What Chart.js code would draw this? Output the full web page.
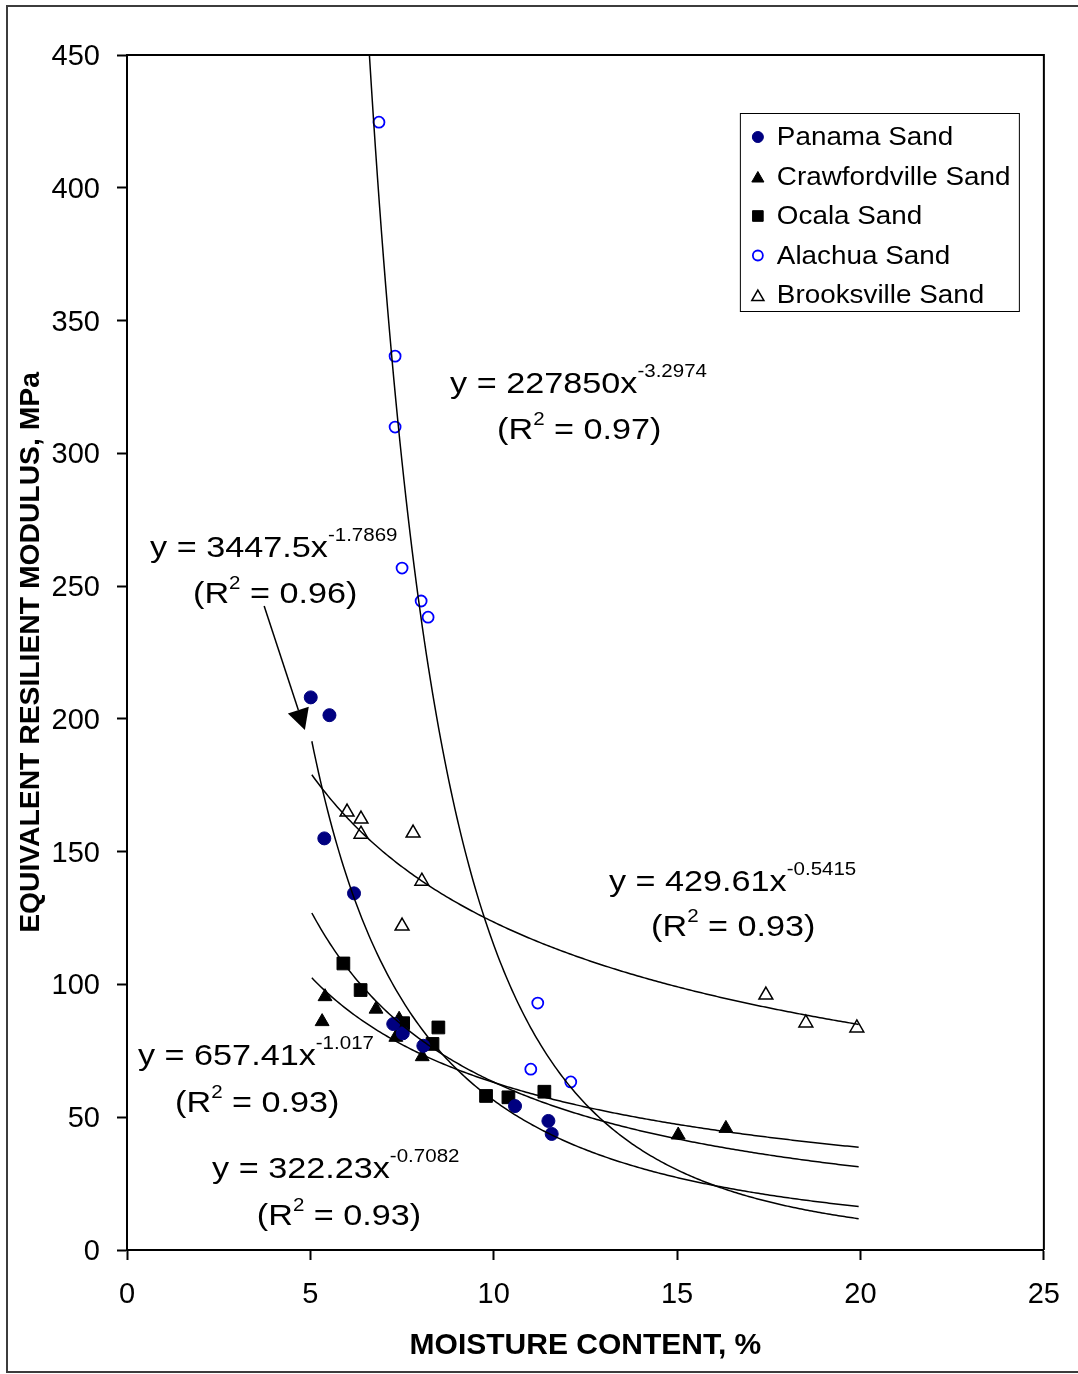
<!DOCTYPE html>
<html>
<head>
<meta charset="utf-8">
<script src="https://cdn.jsdelivr.net/npm/chart.js@4.4.1/dist/chart.umd.min.js"></script>
<style>
  html, body { margin: 0; padding: 0; background: #fff; }
  canvas { display: block; }
</style>
</head>
<body>
<canvas id="chart" width="1078" height="1374"></canvas>
<script>
// measured points, moisture content (%) vs equivalent resilient modulus (MPa)
const panamaX = [5.01, 5.52, 5.38, 6.19, 7.26, 7.52, 8.08, 10.58, 11.49, 11.58];
const panamaY = [208.1, 201.4, 155.0, 134.3, 85.1, 81.6, 76.9, 54.2, 48.6, 43.7];

const crawfordX = [5.32, 5.40, 6.79, 7.42, 7.33, 8.05, 15.03, 16.33];
const crawfordY = [86.0, 95.4, 90.7, 86.9, 80.1, 72.8, 43.3, 45.8];

const ocalaX = [5.90, 6.37, 7.53, 8.49, 8.33, 9.79, 10.40, 11.38];
const ocalaY = [107.9, 97.9, 85.4, 83.8, 77.6, 58.0, 57.5, 59.6];

const alachuaX = [6.87, 7.31, 7.31, 7.50, 8.02, 8.21, 11.20, 11.01, 12.10];
const alachuaY = [424.7, 336.6, 309.9, 256.8, 244.4, 238.3, 93.0, 68.1, 63.3];

const brooksX = [6.00, 6.38, 6.38, 7.80, 7.50, 8.04, 17.42, 18.51, 19.90];
const brooksY = [164.9, 162.3, 156.6, 157.0, 122.0, 138.9, 96.0, 85.5, 83.6];

const seriesNames = ["Panama Sand", "Crawfordville Sand", "Ocala Sand", "Alachua Sand", "Brooksville Sand"];

// power trendlines y = a * x^b as printed on the chart (same order as seriesNames)
const fitCoef = [3447.5, 322.23, 657.41, 227850, 429.61];
const fitExp = [-1.7869, -0.7082, -1.017, -3.2974, -0.5415];
const fitR2 = ["0.96", "0.93", "0.93", "0.97", "0.93"];
const fitFrom = [5.04, 5.04, 5.04, 6.61, 5.04];
const fitTo = [19.95, 19.95, 19.95, 19.95, 19.95];

const xTicks = [0, 5, 10, 15, 20, 25];
const yTicks = [0, 50, 100, 150, 200, 250, 300, 350, 400, 450];

const FONT = "'Liberation Sans', Arial, Helvetica, sans-serif";
Chart.defaults.font.family = FONT;
Chart.defaults.color = "#000";

function pts(xs, ys) {
  return xs.map((x, i) => ({ x: x, y: ys[i] }));
}

function fitCurve(i) {
  const out = [];
  const n = 240;
  for (let k = 0; k <= n; k++) {
    const x = fitFrom[i] + (fitTo[i] - fitFrom[i]) * k / n;
    out.push({ x: x, y: fitCoef[i] * Math.pow(x, fitExp[i]) });
  }
  return out;
}

const markerStyles = [
  { pointStyle: "circle", radius: 6.5, bg: "#000080", border: "#000080", bw: 1 },
  { pointStyle: "triangle", radius: 8, bg: "#000", border: "#000", bw: 1 },
  { pointStyle: "rect", radius: 9, bg: "#000", border: "#000", bw: 1 },
  { pointStyle: "circle", radius: 5.5, bg: "rgba(255,255,255,0)", border: "#0000ff", bw: 1.8 },
  { pointStyle: "triangle", radius: 8, bg: "#fff", border: "#000", bw: 1.5 }
];

const pointSets = [pts(panamaX, panamaY), pts(crawfordX, crawfordY), pts(ocalaX, ocalaY),
  pts(alachuaX, alachuaY), pts(brooksX, brooksY)];

const datasets = [];
pointSets.forEach((d, i) => {
  const m = markerStyles[i];
  datasets.push({
    label: seriesNames[i],
    data: d,
    pointStyle: m.pointStyle,
    pointRadius: m.radius,
    pointBackgroundColor: m.bg,
    pointBorderColor: m.border,
    pointBorderWidth: m.bw,
    showLine: false,
    order: 1
  });
});
seriesNames.forEach((name, i) => {
  datasets.push({
    label: name + " fit",
    data: fitCurve(i),
    showLine: true,
    pointRadius: 0,
    borderColor: "#000",
    borderWidth: 1.5,
    fill: false,
    tension: 0,
    order: 0
  });
});

// equation label anchors (left end of the text baseline, in data units)
const eqAnchorX = [0.63, 2.32, 0.30, 8.81, 13.14];
const eqAnchorY = [260.9, 27.1, 69.7, 322.8, 135.2];
const r2AnchorX = [1.80, 3.54, 1.31, 10.09, 14.29];
const r2AnchorY = [243.6, 9.4, 52.0, 305.3, 118.2];
const arrowFrom = { x: 3.74, y: 242.5 };
const arrowTo = { x: 4.85, y: 195.8 };

function wideText(ctx, text, x, y, sx) {
  ctx.save();
  ctx.translate(x, y);
  ctx.scale(sx, 1);
  ctx.fillText(text, 0, 0);
  ctx.restore();
  return ctx.measureText(text).width * sx;
}

function drawMarker(ctx, m, x, y, r) {
  ctx.save();
  ctx.fillStyle = m.bg;
  ctx.strokeStyle = m.border;
  ctx.lineWidth = m.bw;
  if (Chart.helpers && Chart.helpers.drawPoint) {
    Chart.helpers.drawPoint(ctx, { pointStyle: m.pointStyle, radius: r, borderWidth: m.bw, rotation: 0 }, x, y);
  } else {
    ctx.beginPath();
    ctx.arc(x, y, r, 0, Math.PI * 2);
    ctx.fill();
    ctx.stroke();
  }
  ctx.restore();
}

const decor = {
  id: "decor",
  afterDraw(chart) {
    const ctx = chart.ctx;
    const ca = chart.chartArea;
    const xs = chart.scales.x, ys = chart.scales.y;

    // plot frame (top and right sides)
    ctx.save();
    ctx.strokeStyle = "#000";
    ctx.lineWidth = 2;
    ctx.beginPath();
    ctx.moveTo(ca.left, ca.top);
    ctx.lineTo(ca.right, ca.top);
    ctx.lineTo(ca.right, ca.bottom);
    ctx.stroke();
    ctx.restore();

    // trendline equations
    ctx.save();
    ctx.fillStyle = "#000";
    ctx.textBaseline = "alphabetic";
    ctx.textAlign = "left";
    const sx = 1.14;
    for (let i = 0; i < fitCoef.length; i++) {
      let px = xs.getPixelForValue(eqAnchorX[i]);
      let py = ys.getPixelForValue(eqAnchorY[i]);
      ctx.font = "30px " + FONT;
      px += wideText(ctx, "y = " + fitCoef[i] + "x", px, py, sx);
      ctx.font = "18px " + FONT;
      wideText(ctx, String(fitExp[i]), px, py - 16, sx);

      px = xs.getPixelForValue(r2AnchorX[i]);
      py = ys.getPixelForValue(r2AnchorY[i]);
      ctx.font = "30px " + FONT;
      px += wideText(ctx, "(R", px, py, sx);
      ctx.font = "18px " + FONT;
      px += wideText(ctx, "2", px, py - 14, sx);
      ctx.font = "30px " + FONT;
      wideText(ctx, " = " + fitR2[i] + ")", px, py, sx);
    }
    ctx.restore();

    // arrow pointing at the Panama trendline
    const ax0 = xs.getPixelForValue(arrowFrom.x), ay0 = ys.getPixelForValue(arrowFrom.y);
    const ax1 = xs.getPixelForValue(arrowTo.x), ay1 = ys.getPixelForValue(arrowTo.y);
    const ang = Math.atan2(ay1 - ay0, ax1 - ax0);
    const hl = 21, hw = 11;
    const bx = ax1 - hl * Math.cos(ang), by = ay1 - hl * Math.sin(ang);
    ctx.save();
    ctx.strokeStyle = "#000";
    ctx.fillStyle = "#000";
    ctx.lineWidth = 1.5;
    ctx.beginPath();
    ctx.moveTo(ax0, ay0);
    ctx.lineTo(bx, by);
    ctx.stroke();
    ctx.beginPath();
    ctx.moveTo(ax1, ay1);
    ctx.lineTo(bx + hw * Math.sin(ang), by - hw * Math.cos(ang));
    ctx.lineTo(bx - hw * Math.sin(ang), by + hw * Math.cos(ang));
    ctx.closePath();
    ctx.fill();
    ctx.restore();

    // legend box
    const lx = ca.right - 304, ly = ca.top + 58, lw = 279, lh = 198;
    ctx.save();
    ctx.fillStyle = "#fff";
    ctx.fillRect(lx, ly, lw, lh);
    ctx.strokeStyle = "#000";
    ctx.lineWidth = 1;
    ctx.strokeRect(lx + 0.5, ly + 0.5, lw, lh);
    ctx.font = "26.5px " + FONT;
    ctx.textBaseline = "middle";
    ctx.textAlign = "left";
    const legendR = [5.5, 7, 7.5, 5, 7];
    seriesNames.forEach((name, i) => {
      const cy = ly + 24 + i * 39.5;
      drawMarker(ctx, markerStyles[i], lx + 18, cy + (markerStyles[i].pointStyle === "triangle" ? 2 : 0), legendR[i]);
      ctx.fillStyle = "#000";
      wideText(ctx, name, lx + 37, cy + 1, 1.05);
    });
    ctx.restore();

    // outer frame of the picture
    ctx.save();
    ctx.strokeStyle = "#3c3c3c";
    ctx.lineWidth = 2;
    ctx.beginPath();
    ctx.moveTo(1080, 6);
    ctx.lineTo(7, 6);
    ctx.lineTo(7, 1372);
    ctx.lineTo(1080, 1372);
    ctx.stroke();
    ctx.restore();
  }
};

new Chart(document.getElementById("chart"), {
  type: "scatter",
  data: { datasets: datasets },
  plugins: [decor],
  options: {
    responsive: false,
    animation: false,
    devicePixelRatio: 1,
    layout: { padding: { left: 0, top: 55, right: 34, bottom: 0 } },
    plugins: {
      legend: { display: false },
      tooltip: { enabled: false }
    },
    scales: {
      x: {
        type: "linear",
        min: xTicks[0],
        max: xTicks[xTicks.length - 1],
        afterBuildTicks: (s) => { s.ticks = xTicks.map(v => ({ value: v })); },
        ticks: { font: { size: 29 }, color: "#000", padding: 18, maxRotation: 0 },
        grid: { drawOnChartArea: false, drawTicks: true, tickLength: 10, tickColor: "#000", tickWidth: 2, color: "#000" },
        border: { display: true, color: "#000", width: 2 },
        title: { display: true, text: "MOISTURE CONTENT, %", color: "#000",
          font: { size: 30, weight: "bold" }, padding: { top: 0, bottom: 10 } },
        afterFit: (s) => { s.height = 124; }
      },
      y: {
        type: "linear",
        min: yTicks[0],
        max: yTicks[yTicks.length - 1],
        afterBuildTicks: (s) => { s.ticks = yTicks.map(v => ({ value: v })); },
        ticks: { font: { size: 29 }, color: "#000", padding: 17, labelOffset: 2 },
        grid: { drawOnChartArea: false, drawTicks: true, tickLength: 10, tickColor: "#000", tickWidth: 2, color: "#000" },
        border: { display: true, color: "#000", width: 2 },
        title: { display: true, text: "EQUIVALENT RESILIENT MODULUS, MPa", color: "#000",
          font: { size: 28.3, weight: "bold" }, padding: { top: 14, bottom: 0 } },
        afterFit: (s) => { s.width = 127; }
      }
    }
  }
});
</script>
</body>
</html>
